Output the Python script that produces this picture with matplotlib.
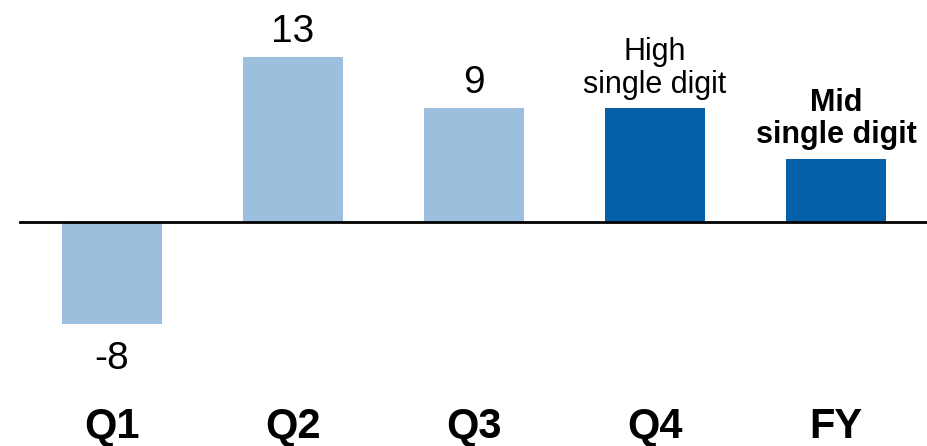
import numpy as np
import matplotlib.pyplot as plt

plt.rcParams['font.family'] = ['Liberation Sans', 'DejaVu Sans']

categories = ['Q1', 'Q2', 'Q3', 'Q4', 'FY']
values = [-8, 13, 9, 9, 5]
labels = ['-8', '13', '9', 'High\nsingle digit', 'Mid\nsingle digit']
bold_label = [False, False, False, False, True]
colors = ['#9BBFDD', '#9BBFDD', '#9BBFDD', '#0560A8', '#0560A8']

fig = plt.figure(figsize=(9.28, 4.46), dpi=100)
ax = fig.add_axes([0, 0, 1, 1])
x = np.arange(len(categories))
ax.bar(x, values, width=0.553, color=colors)
ax.axhline(0, xmin=20/928, xmax=1, color='black', lw=2)

ax.set_xlim(-112/181, (928-112)/181)
ax.set_ylim(-(446-222)/12.7, 222/12.7)
ax.axis('off')

for i, (v, lab) in enumerate(zip(values, labels)):
    multi = '\n' in lab
    fs = 22 if multi else 28
    wt = 'bold' if bold_label[i] else 'normal'
    if v >= 0:
        ax.annotate(lab, (x[i], v), xytext=(0, 15), textcoords='offset pixels',
                    ha='center', va='baseline', fontsize=fs, fontweight=wt,
                    linespacing=1.1)
    else:
        ax.annotate(lab, (x[i], v), xytext=(0, -17), textcoords='offset pixels',
                    ha='center', va='top', fontsize=fs, fontweight=wt)

for i, c in enumerate(categories):
    ax.text(x[i], 1 - 438/446, c, transform=ax.get_xaxis_transform(),
            ha='center', va='baseline', fontsize=30, fontweight='bold')

fig.savefig('out.png', dpi=100)
